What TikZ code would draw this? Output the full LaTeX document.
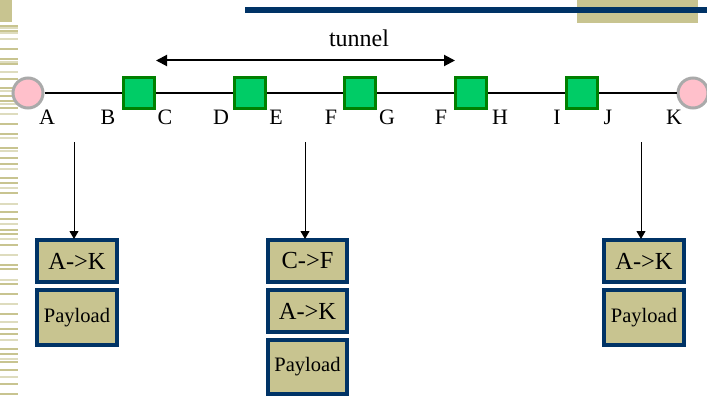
\documentclass[tikz,border=0pt]{standalone}
\usepackage{fontspec}
\setmainfont{Liberation Serif}
\usetikzlibrary{arrows.meta}
\definecolor{navy}{RGB}{0,51,102}
\definecolor{olive}{RGB}{200,196,144}
\definecolor{oliveL}{RGB}{222,220,190}
\definecolor{sqfill}{RGB}{0,204,102}
\definecolor{sqdraw}{RGB}{0,128,0}
\definecolor{ringgray}{RGB}{170,170,170}
\definecolor{pinkfill}{RGB}{255,192,203}
\tikzset{
  endpt/.style={circle,draw=ringgray,fill=pinkfill,line width=3pt,minimum size=30pt,inner sep=0pt},
  router/.style={rectangle,draw=sqdraw,fill=sqfill,line width=3pt,minimum size=31pt,inner sep=0pt},
  lbl/.style={anchor=base,font=\fontsize{22}{24}\selectfont,inner sep=0pt},
  hdr/.style={rectangle,draw=navy,fill=olive,line width=4pt,minimum width=80pt,minimum height=42pt,inner sep=0pt,font=\fontsize{24.5}{26}\selectfont},
  pay/.style={hdr,minimum height=55pt,font=\fontsize{20.5}{22}\selectfont},
  arr/.style={-{Triangle[length=8pt,width=9pt]},line width=1pt},
}
\begin{document}
\begin{tikzpicture}[x=1pt,y=-1pt]
\useasboundingbox (0,0) rectangle (707,396);
% left decorative stripes
\fill[olive] (0,0) rectangle (12,22);
\foreach \yy/\cc in {25/olive,27/oliveL,30/olive,32/oliveL,38/oliveL,48/olive,58/olive,61/oliveL,63/olive,71/oliveL,78/olive,87/olive,90/oliveL,95/olive,100/olive,103/oliveL,107/olive,113/oliveL,123/olive,133/olive,137/oliveL,147/olive,150/oliveL,157/olive,163/olive,168/oliveL,177/olive,182/olive,187/oliveL,192/olive,203/oliveL,211/olive,218/olive,223/oliveL,229/olive,233/olive,238/oliveL,244/olive,254/oliveL,264/olive,268/olive,279/oliveL,283/olive,293/olive,303/oliveL,313/olive,321/oliveL,328/olive,333/olive,339/oliveL,348/olive,353/olive,358/oliveL,361/olive,369/olive,376/oliveL,383/olive,393/olive}
  \fill[\cc] (0,\yy) rectangle (17.5,\yy+1.6);
% top bar
\fill[olive] (577,0) rectangle (698,23);
\fill[navy] (245,7) rectangle (707,13);
% endpoints and routers
\node[endpt] (A0) at (28,93) {};
\node[endpt] (K0) at (693,93) {};
\node[router] (s1) at (139,93) {};
\node[router] (s2) at (249.5,93) {};
\node[router] (s3) at (360,93) {};
\node[router] (s4) at (471,93) {};
\node[router] (s5) at (582,93) {};
\draw[line width=2.5pt] (A0) -- (s1) (s1) -- (s2) (s2) -- (s3) (s3) -- (s4) (s4) -- (s5) (s5) -- (K0);
% labels
\node[lbl] (lA) at (47,124) {A};
\node[lbl] (lB) at (108,124) {B};
\node[lbl] (lC) at (165,124) {C};
\node[lbl] (lD) at (221,124) {D};
\node[lbl] (lE) at (276,124) {E};
\node[lbl] (lF) at (331,124) {F};
\node[lbl] (lG) at (387,124) {G};
\node[lbl] (lF2) at (441,124) {F};
\node[lbl] (lH) at (500,124) {H};
\node[lbl] (lI) at (557,124) {I};
\node[lbl] (lJ) at (608,124) {J};
\node[lbl] (lK) at (674,124) {K};
% tunnel
\coordinate (t1) at (156,60.5);
\coordinate (t2) at (455,60.5);
\draw[{Triangle[length=11pt,width=11pt]}-{Triangle[length=11pt,width=11pt]},line width=2pt] (t1) -- (t2);
\node[lbl,font=\fontsize{24}{26}\selectfont] (tun) at (359,47) {tunnel};
% packets
\node[hdr] (p1a) at (77,261) {A->K};
\node[pay] (p1b) at (77,317.5) {Payload};
\node[hdr,minimum width=79pt] (p2a) at (307.5,261) {C->F};
\node[hdr,minimum width=79pt] (p2b) at (307.5,311) {A->K};
\node[pay,minimum width=79pt,minimum height=54pt] (p2c) at (307.5,367) {Payload};
\node[hdr] (p3a) at (644,261) {A->K};
\node[pay] (p3b) at (644,317.5) {Payload};
% arrows
\coordinate (v1) at (74,142);
\coordinate (v2) at (305,142);
\coordinate (v3) at (641,142);
\draw[arr] (v1) -- ([yshift=-1pt]v1 |- p1a.north);
\draw[arr] (v2) -- ([yshift=-1pt]v2 |- p2a.north);
\draw[arr] (v3) -- ([yshift=-1pt]v3 |- p3a.north);
\end{tikzpicture}
\end{document}
